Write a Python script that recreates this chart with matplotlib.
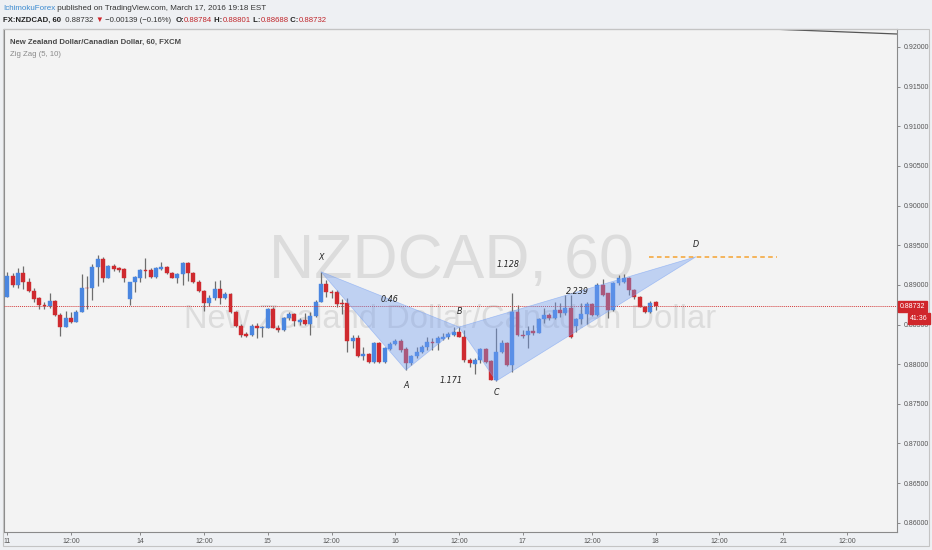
import matplotlib
matplotlib.use('Agg')
import matplotlib.pyplot as plt
import matplotlib.transforms as mtransforms
from matplotlib.patches import Rectangle, Polygon

# ---------------- data (hourly NZDCAD candles) ----------------
opens = [0.88850, 0.89111, 0.88998, 0.89145, 0.89039, 0.88922, 0.88830, 0.88746, 0.88733, 0.88799,
         0.88619, 0.88472, 0.88578, 0.88535, 0.88661, 0.88964, 0.88964, 0.89229, 0.89326, 0.89082,
         0.89241, 0.89208, 0.89200, 0.88821, 0.89032, 0.89090, 0.89187, 0.89187, 0.89095, 0.89200,
         0.89229, 0.89145, 0.89090, 0.89133, 0.89272, 0.89145, 0.89039, 0.88922, 0.88767, 0.88830,
         0.88947, 0.88830, 0.88880, 0.88653, 0.88484, 0.88376, 0.88367, 0.88484, 0.88451, 0.88459,
         0.88695, 0.88459, 0.88430, 0.88578, 0.88628, 0.88535, 0.88556, 0.88502, 0.88610, 0.88787,
         0.89006, 0.88913, 0.88913, 0.88767, 0.88767, 0.88295, 0.88325, 0.88102, 0.88128, 0.88030,
         0.88270, 0.88030, 0.88186, 0.88253, 0.88291, 0.88186, 0.88010, 0.88102, 0.88157, 0.88212,
         0.88282, 0.88262, 0.88313, 0.88338, 0.88367, 0.88409, 0.88345, 0.88052, 0.88001, 0.88052,
         0.88186, 0.88039, 0.87800, 0.88157, 0.88270, 0.87989, 0.88653, 0.88367, 0.88367, 0.88421,
         0.88396, 0.88565, 0.88619, 0.88578, 0.88683, 0.88648, 0.88704, 0.88481, 0.88565, 0.88632,
         0.88758, 0.88619, 0.88998, 0.88893, 0.88683, 0.89027, 0.89039, 0.89082, 0.88935, 0.88850,
         0.88724, 0.88661, 0.88784]
highs = [0.89162, 0.89149, 0.89216, 0.89241, 0.89082, 0.88956, 0.88850, 0.88787, 0.88893, 0.88808,
         0.88641, 0.88670, 0.88661, 0.88683, 0.89133, 0.89115, 0.89259, 0.89377, 0.89355, 0.89245,
         0.89259, 0.89229, 0.89208, 0.89039, 0.89115, 0.89200, 0.89335, 0.89208, 0.89229, 0.89284,
         0.89241, 0.89158, 0.89145, 0.89292, 0.89292, 0.89158, 0.89061, 0.88935, 0.88872, 0.89048,
         0.89061, 0.88913, 0.88893, 0.88670, 0.88502, 0.88401, 0.88502, 0.88514, 0.88476, 0.88711,
         0.88724, 0.88493, 0.88598, 0.88661, 0.88641, 0.88585, 0.88641, 0.88661, 0.88808, 0.89166,
         0.89061, 0.88935, 0.88935, 0.88817, 0.88830, 0.88367, 0.88367, 0.88219, 0.88144, 0.88282,
         0.88282, 0.88219, 0.88282, 0.88313, 0.88313, 0.88219, 0.88115, 0.88219, 0.88241, 0.88345,
         0.88325, 0.88354, 0.88388, 0.88409, 0.88464, 0.88472, 0.88430, 0.88073, 0.88073, 0.88199,
         0.88199, 0.88052, 0.88451, 0.88304, 0.88282, 0.88900, 0.88746, 0.88430, 0.88481, 0.88493,
         0.88578, 0.88704, 0.88648, 0.88787, 0.88767, 0.88872, 0.88872, 0.88578, 0.88767, 0.88787,
         0.88775, 0.89019, 0.89070, 0.88900, 0.89039, 0.89124, 0.89137, 0.89095, 0.88943, 0.88859,
         0.88733, 0.88799, 0.88801]
lows = [0.88846, 0.88973, 0.88956, 0.88947, 0.88913, 0.88787, 0.88695, 0.88695, 0.88704, 0.88610,
        0.88358, 0.88472, 0.88514, 0.88535, 0.88661, 0.88695, 0.88808, 0.88989, 0.89032, 0.89082,
        0.89175, 0.89166, 0.89039, 0.88746, 0.88913, 0.89039, 0.89082, 0.89082, 0.89082, 0.89187,
        0.89133, 0.89082, 0.89019, 0.88998, 0.89048, 0.89019, 0.88913, 0.88670, 0.88737, 0.88808,
        0.88754, 0.88821, 0.88641, 0.88472, 0.88345, 0.88345, 0.88358, 0.88325, 0.88345, 0.88451,
        0.88451, 0.88409, 0.88418, 0.88556, 0.88484, 0.88493, 0.88493, 0.88367, 0.88598, 0.88780,
        0.88846, 0.88830, 0.88724, 0.88632, 0.88157, 0.88199, 0.88093, 0.88052, 0.88018, 0.88018,
        0.88018, 0.88018, 0.88178, 0.88241, 0.88157, 0.87926, 0.87989, 0.88073, 0.88136, 0.88178,
        0.88178, 0.88178, 0.88304, 0.88313, 0.88354, 0.88338, 0.88027, 0.87967, 0.87875, 0.88010,
        0.88018, 0.87796, 0.87787, 0.88136, 0.87976, 0.87904, 0.88354, 0.88325, 0.88199, 0.88367,
        0.88388, 0.88514, 0.88556, 0.88565, 0.88598, 0.88619, 0.88325, 0.88409, 0.88506, 0.88506,
        0.88607, 0.88607, 0.88859, 0.88578, 0.88674, 0.88998, 0.89027, 0.88872, 0.88817, 0.88716,
        0.88648, 0.88648, 0.88688]
closes = [0.89115, 0.88998, 0.89145, 0.89032, 0.88922, 0.88821, 0.88746, 0.88733, 0.88799, 0.88619,
          0.88472, 0.88578, 0.88527, 0.88661, 0.88964, 0.88960, 0.89229, 0.89326, 0.89082, 0.89241,
          0.89200, 0.89187, 0.89090, 0.89032, 0.89102, 0.89187, 0.89178, 0.89095, 0.89208, 0.89229,
          0.89145, 0.89090, 0.89133, 0.89272, 0.89145, 0.89039, 0.88922, 0.88767, 0.88830, 0.88947,
          0.88830, 0.88880, 0.88653, 0.88484, 0.88367, 0.88358, 0.88484, 0.88451, 0.88472, 0.88695,
          0.88459, 0.88430, 0.88578, 0.88628, 0.88544, 0.88556, 0.88502, 0.88610, 0.88787, 0.89006,
          0.88913, 0.88900, 0.88758, 0.88758, 0.88295, 0.88325, 0.88102, 0.88128, 0.88030, 0.88270,
          0.88030, 0.88199, 0.88253, 0.88291, 0.88178, 0.88018, 0.88102, 0.88157, 0.88212, 0.88282,
          0.88262, 0.88325, 0.88345, 0.88380, 0.88409, 0.88345, 0.88052, 0.88010, 0.88052, 0.88186,
          0.88030, 0.87800, 0.88157, 0.88270, 0.87989, 0.88653, 0.88367, 0.88354, 0.88421, 0.88396,
          0.88565, 0.88619, 0.88578, 0.88683, 0.88648, 0.88704, 0.88338, 0.88565, 0.88632, 0.88758,
          0.88619, 0.88998, 0.88872, 0.88683, 0.89027, 0.89082, 0.89082, 0.88935, 0.88850, 0.88724,
          0.88661, 0.88775, 0.88732]

# x-axis ticks (bar index) and labels
tick_pos = [0, 12, 25, 37, 49, 61, 73, 85, 97, 110, 122, 134, 146, 158]
tick_labels = ['11', '12:00', '14', '12:00', '15', '12:00', '16', '12:00', '17', '12:00',
               '18', '12:00', '21', '12:00']
price_ticks = [0.860, 0.865, 0.870, 0.875, 0.880, 0.885, 0.890, 0.895, 0.900, 0.905, 0.910, 0.915, 0.920]

# XABCD pattern points (bar index, price)
pat_names = ['X', 'A', 'B', 'C', 'D']
pat_x = [59, 75, 85, 92, 129.6]
pat_y = [0.89166, 0.87926, 0.88468, 0.87787, 0.89355]
ratio_XB, ratio_AC, ratio_XD, ratio_BD = '0.46', '1.171', '1.128', '2.239'

# target level line at D
d_line_x = [120.8, 144.8]
d_line_y = 0.89355
# zig zag leg entering at top right
zz_x = [143.5, 167.4]
zz_y = [0.92227, 0.92164]

last_price = 0.88732
countdown = '41:36'

# header
line1 = [('IchimokuForex', '#3b8ad0', 'normal'),
         (' published on TradingView.com, March 17, 2016 19:18 EST', '#333333', 'normal')]
line2 = [('FX:NZDCAD, 60', '#222222', 'bold'), ('  0.88732 ', '#333333', 'normal'),
         ('\u25BC', '#d0262b', 'normal'), (' \u22120.00139 (\u22120.16%)  ', '#333333', 'normal'),
         ('O:', '#222222', 'bold'), ('0.88784', '#c0262b', 'normal'),
         (' H:', '#222222', 'bold'), ('0.88801', '#c0262b', 'normal'),
         (' L:', '#222222', 'bold'), ('0.88688', '#c0262b', 'normal'),
         (' C:', '#222222', 'bold'), ('0.88732', '#c0262b', 'normal')]

# ---------------- figure ----------------
W, H = 932, 550
fig = plt.figure(figsize=(W / 100, H / 100), dpi=100, facecolor='#eef0f3')
ax = fig.add_axes([4 / W, 18 / H, 893 / W, 503 / H])
ax.set_facecolor('#f3f3f3')

ax.set_xlim(-0.62, 167.4)
ax.set_ylim(0.85883, 0.92227)

# watermark
wm = '#dcdcdc'
ax.text(0.5006, 0.537, 'NZDCAD, 60', transform=ax.transAxes, ha='center', va='center',
        fontsize=45, color=wm, family='Liberation Sans', zorder=0)
ax.text(0.499, 0.4215, 'New Zealand Dollar/Canadian Dollar', transform=ax.transAxes,
        ha='center', va='center', fontsize=23.6, color=wm, family='Liberation Sans', zorder=0)

up_col = '#4a86e0'
dn_col = '#cf2a2f'
wick_col = '#6d6d6d'
n = len(opens)
for i in range(n):
    o, h, l, c = opens[i], highs[i], lows[i], closes[i]
    col = up_col if c >= o else dn_col
    ax.vlines(i, l, h, color=wick_col, lw=0.9, zorder=2)
    b = min(o, c)
    hgt = max(abs(c - o), 0.00002)
    ax.bar(i, hgt, bottom=b, width=0.74, color=col, edgecolor=col, lw=0.3, zorder=3)

# current price line
ax.axhline(last_price, color='#d23a3a', lw=0.7, ls=(0, (1, 1)), zorder=4)

# pattern triangles
fillc = (0.45, 0.62, 0.95, 0.40)
edgec = (0.45, 0.62, 0.95, 0.55)
tri1 = Polygon([(pat_x[0], pat_y[0]), (pat_x[1], pat_y[1]), (pat_x[2], pat_y[2])],
               closed=True, facecolor=fillc, edgecolor=edgec, lw=0.5, zorder=5)
tri2 = Polygon([(pat_x[2], pat_y[2]), (pat_x[3], pat_y[3]), (pat_x[4], pat_y[4])],
               closed=True, facecolor=fillc, edgecolor=edgec, lw=0.5, zorder=5)
ax.add_patch(tri1)
ax.add_patch(tri2)

# pattern labels
lab_kw = dict(fontsize=5.8, style='italic', color='#222222', ha='center', va='center',
              family='DejaVu Sans', zorder=7)
offs = [10.5, -11, 11, -8, 9]
for name, px, py, off in zip(pat_names, pat_x, pat_y, offs):
    ax.annotate(name, (px, py), xytext=(0, off), textcoords='offset points', **lab_kw)


def mid(a, b):
    return ((pat_x[a] + pat_x[b]) / 2, (pat_y[a] + pat_y[b]) / 2)


ax.annotate(ratio_XB, mid(0, 2), xytext=(0, 0), textcoords='offset points', **lab_kw)
ax.annotate(ratio_AC, mid(1, 3), xytext=(0, -3.5), textcoords='offset points', **lab_kw)
ax.annotate(ratio_XD, mid(0, 4), xytext=(0, 0), textcoords='offset points', **lab_kw)
ax.annotate(ratio_BD, mid(2, 4), xytext=(0, 0), textcoords='offset points', **lab_kw)

# D level dashed line
ax.plot(d_line_x, [d_line_y, d_line_y], color='#f5a331', lw=1.1, ls=(0, (3, 2.2)), zorder=6)
# zigzag line
ax.plot(zz_x, zz_y, color='#555555', lw=0.9, zorder=6, clip_on=True)

# axes styling
ax.yaxis.tick_right()
ax.set_yticks(price_ticks)
ax.set_yticklabels([f'{v:.5f}' for v in price_ticks])
ax.set_xticks(tick_pos)
ax.set_xticklabels(tick_labels)
ax.tick_params(axis='both', length=2.5, width=0.6, color='#777777', labelsize=5.0,
               labelcolor='#555555', pad=2)
for lab in ax.get_xticklabels() + ax.get_yticklabels():
    lab.set_family('Liberation Sans')
for s in ax.spines.values():
    s.set_color('#8a8a8a')
    s.set_linewidth(0.8)

# price label on axis
blend = mtransforms.blended_transform_factory(ax.transAxes, ax.transData)
ax.text(1.003, last_price, f'{last_price:.5f}', transform=blend, ha='left', va='center',
        fontsize=5.0, color='white', family='Liberation Sans', clip_on=False, zorder=10,
        bbox=dict(boxstyle='square,pad=0.3', fc='#d0262b', ec='#d0262b'))
fig.text(928 / W, 1 - 318.5 / H, countdown, ha='right', va='center', fontsize=5.0, color='white',
         family='Liberation Sans',
         bbox=dict(boxstyle='square,pad=0.3', fc='#d0262b', ec='#d0262b'))

# outer frame
fig.patches.append(Rectangle((3 / W, 1 - 546 / H), 926 / W, 517 / H, transform=fig.transFigure,
                             fill=False, ec='#c4c4c4', lw=0.8))

# legend texts inside plot
ax.text(6 / 893, 1 - 13 / 503, 'New Zealand Dollar/Canadian Dollar, 60, FXCM', transform=ax.transAxes,
        ha='left', va='center', fontsize=5.6, color='#4a4a4a', family='Liberation Sans',
        weight='bold', zorder=8)
ax.text(6 / 893, 1 - 25 / 503, 'Zig Zag (5, 10)', transform=ax.transAxes,
        ha='left', va='center', fontsize=5.6, color='#8a8a8a', family='Liberation Sans', zorder=8)

# header lines: sequential placement using measured widths
renderer = fig.canvas.get_renderer()


def place(parts, x_px, y_px, size):
    x = x_px
    for txt, col, wt in parts:
        t = fig.text(x / W, 1 - y_px / H, txt, ha='left', va='center', fontsize=size, color=col,
                     weight=wt, family=['Liberation Sans', 'DejaVu Sans'])
        bb = t.get_window_extent(renderer=renderer)
        x += bb.width


place(line1, 3, 8, 5.8)
place(line2, 3, 20, 5.6)

fig.savefig('out.png', dpi=100, facecolor=fig.get_facecolor())
